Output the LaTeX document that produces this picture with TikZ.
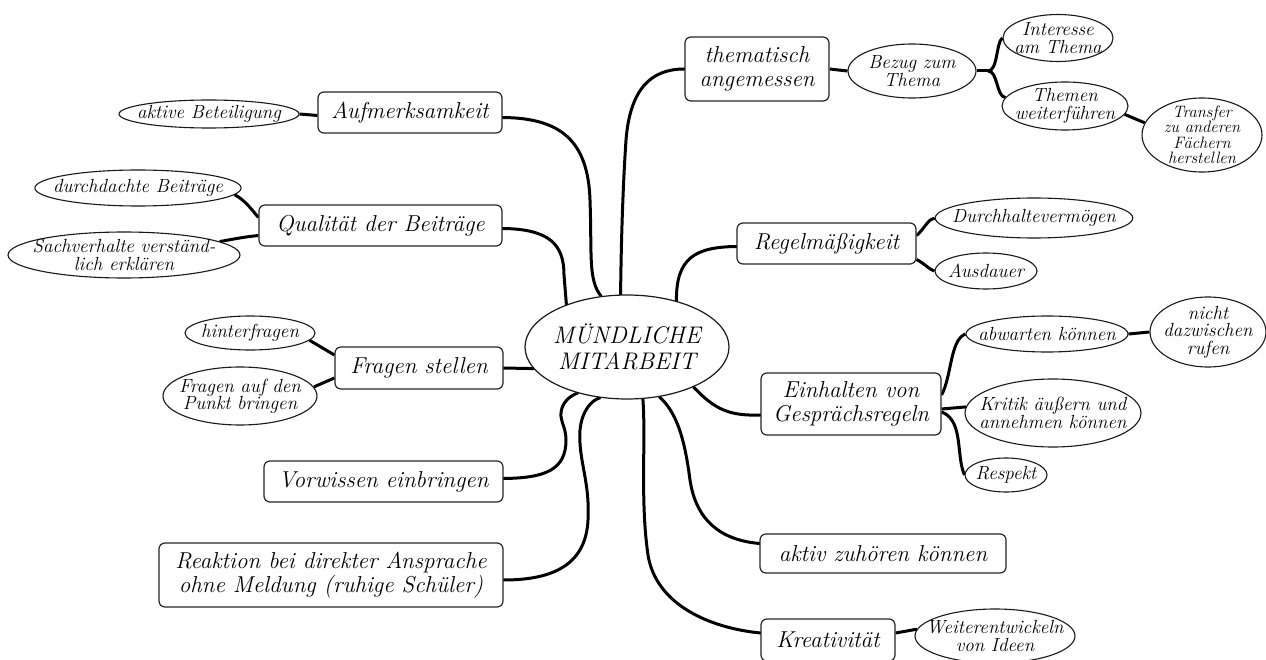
\documentclass[tikz,border=0pt]{standalone}
\usepackage{fontspec}
\usetikzlibrary{shapes.geometric,backgrounds}
\begin{document}
\begin{tikzpicture}[x=1pt,y=-1pt,
  box/.style={draw=black!85, rounded corners=6pt, line width=1.2pt, align=center, inner sep=0pt, fill=white,
    font=\fontsize{23}{24}\selectfont\itshape},
  oval/.style={draw=black!90, ellipse, line width=1.1pt, align=center, inner sep=-12pt, fill=white,
    font=\fontsize{19}{17.5}\selectfont\itshape},
  hub/.style={draw=black!90, ellipse, line width=1.2pt, align=center, inner sep=-12pt, fill=white,
    font=\fontsize{24}{26}\selectfont\itshape},
  branch/.style={line width=3pt, line cap=round},
  twig/.style={line width=3pt}]
\useasboundingbox (0,0) rectangle (1266,660);

% centre
\node[hub, minimum width=204pt, minimum height=104pt] (mm) at (627,347) {MÜNDLICHE\\MITARBEIT};

% main boxes
\node[box, minimum width=184pt, minimum height=41pt] (aufm) at (410,112.5) {Aufmerksamkeit};
\node[box, minimum width=243pt, minimum height=41pt] (qual) at (380.5,225.5) {Qualität der Beiträge};
\node[box, minimum width=168pt, minimum height=42pt] (frag) at (419,368) {Fragen stellen};
\node[box, minimum width=239pt, minimum height=41pt] (vorw) at (383.5,481.5) {Vorwissen einbringen};
\node[box, minimum width=344pt, minimum height=64pt] (reak) at (331,575) {Reaktion bei direkter Ansprache\\ohne Meldung (ruhige Schüler)};
\node[box, minimum width=144pt, minimum height=64pt] (them) at (757,69) {thematisch\\angemessen};
\node[box, minimum width=179pt, minimum height=41pt] (regel) at (826.5,243.5) {Regelmäßigkeit};
\node[box, minimum width=180pt, minimum height=62pt] (einh) at (851,404) {Einhalten von\\Gesprächsregeln};
\node[box, minimum width=246pt, minimum height=39pt] (aktiv) at (883,553.5) {aktiv zuhören können};
\node[box, minimum width=134pt, minimum height=42pt] (krea) at (828,640) {Kreativität};

% ovals
\node[oval, minimum width=180pt, minimum height=28pt] (akt) at (209,114) {aktive Beteiligung};
\node[oval, minimum width=204pt, minimum height=36pt] (durch) at (138,188) {durchdachte Beiträge};
\node[oval, minimum width=232pt, minimum height=46pt] (sach) at (124,255) {Sachverhalte verständ-\\lich erklären};
\node[oval, minimum width=130pt, minimum height=34pt] (hint) at (250,333) {hinterfragen};
\node[oval, minimum width=154pt, minimum height=58pt] (punkt) at (240,396) {Fragen auf den\\Punkt bringen};
\node[oval, minimum width=128pt, minimum height=54pt] (bez) at (912,71) {Bezug zum\\Thema};
\node[oval, minimum width=110pt, minimum height=47pt] (int) at (1058,38) {Interesse\\am Thema};
\node[oval, minimum width=126pt, minimum height=48pt] (themen) at (1065,106) {Themen\\weiterführen};
\node[oval, minimum width=120pt, minimum height=74pt, font=\fontsize{16.5}{15.5}\selectfont\itshape] (trans) at (1202,135) {Transfer\\zu anderen\\Fächern\\herstellen};
\node[oval, minimum width=194pt, minimum height=40pt] (durchh) at (1034,218) {Durchhaltevermögen};
\node[oval, minimum width=102pt, minimum height=36pt] (aus) at (986,271) {Ausdauer};
\node[oval, minimum width=162pt, minimum height=36pt] (abw) at (1047,334) {abwarten können};
\node[oval, minimum width=116pt, minimum height=70pt] (nicht) at (1208,332) {nicht\\dazwischen\\rufen};
\node[oval, minimum width=176pt, minimum height=68pt] (krit) at (1053,413) {Kritik äußern und\\annehmen können};
\node[oval, minimum width=82pt, minimum height=34pt] (resp) at (1006,475) {Respekt};
\node[oval, minimum width=160pt, minimum height=54pt] (weit) at (995,636) {Weiterentwickeln\\von Ideen};

\coordinate (bsplit) at (988,71);

\begin{scope}[on background layer]
\fill[white] (0,0) rectangle (1266,660);
% main branches
\draw[branch] ([yshift=-5pt]aufm.east) .. controls (560,118) and (588,140) .. (590,200)
  .. controls (592,255) and (588,280) .. (mm.117);
\draw[branch] (them.west) .. controls (650,69) and (630,90) .. (626,140)
  .. controls (622,200) and (621,260) .. (mm.97);
\draw[branch] ([yshift=-3pt]qual.east) .. controls (550,229) and (564,245) .. (564,275) -- (mm.145);
\draw[branch] (frag.east) -- (mm.193);
\draw[branch] ([yshift=3pt]vorw.east) .. controls (545,478) and (566,470) .. (566,440)
  .. controls (566,425) and (558,420) .. (562,408) .. controls (565,400) and (570,396) .. (mm.223);
\draw[branch] ([yshift=-5pt]reak.east) .. controls (560,580) and (586,560) .. (588,520)
  .. controls (590,480) and (578,460) .. (580,430) .. controls (582,410) and (592,400) .. (mm.242);
\draw[branch] (mm.287) .. controls (646,440) and (640,500) .. (648,555)
  .. controls (656,605) and (710,628) .. ([yshift=7pt]krea.west);
\draw[branch] (mm.303) .. controls (680,415) and (686,450) .. (690,480)
  .. controls (696,520) and (720,540) .. ([yshift=10pt]aktiv.west);
\draw[branch] (mm.329) .. controls (715,410) and (730,416) .. ([yshift=-11pt]einh.west);
\draw[branch] ([yshift=-3pt]regel.west) .. controls (695,247) and (676,258) .. (mm.43);
% twigs
\draw[twig] (akt.east) -- ([yshift=-3pt]aufm.west);
\draw[twig] (durch.-4) .. controls (245,200) and (252,210) .. ([yshift=8pt]qual.west);
\draw[twig] (sach.8) .. controls (245,237) .. ([yshift=-10pt]qual.west);
\draw[twig] (hint.-7) -- ([yshift=13pt]frag.west);
\draw[twig] (punkt.7) -- ([yshift=-10pt]frag.west);
\draw[twig] (them.east) -- (bez.west);
\draw[twig] (bez.east) -- (bsplit);
\draw[twig] (bsplit) .. controls (998,71) and (996,42) .. (int.west);
\draw[twig] (bsplit) .. controls (998,71) and (996,96) .. (themen.172);
\draw[twig] (themen.-8) -- (trans.168);
\draw[twig] ([yshift=8pt]regel.east) .. controls (925,228) and (928,219) .. (durchh.west);
\draw[twig] ([yshift=-16pt]regel.east) .. controls (925,264) and (930,270) .. (aus.west);
\draw[twig] ([yshift=9pt]einh.east) .. controls (952,375) and (950,340) .. (abw.west);
\draw[twig] ([yshift=-5pt]einh.east) -- (krit.176);
\draw[twig] ([yshift=-8pt]einh.east) .. controls (958,418) and (958,440) .. (960,455)
  .. controls (961,465) and (963,472) .. (resp.west);
\draw[twig] (abw.east) -- (nicht.west);
\draw[twig] ([yshift=7pt]krea.east) -- (weit.175);
\end{scope}
\end{tikzpicture}
\end{document}
